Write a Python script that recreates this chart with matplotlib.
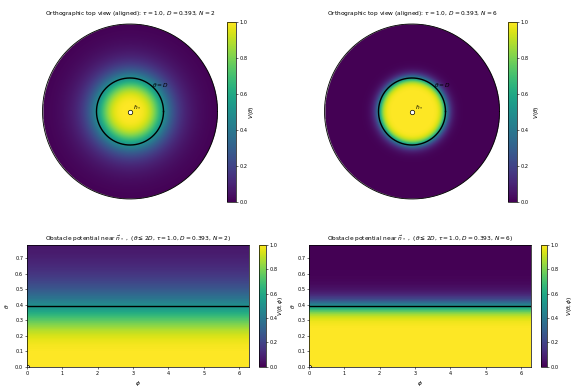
import numpy as np
import matplotlib
matplotlib.use("Agg")
import matplotlib.pyplot as plt

# model parameters shown in the titles
tau = 1.0
D = 0.393
N_values = [2, 6]

W, H = 575, 392
FS = 4.2
plt.rcParams["font.size"] = FS
plt.rcParams["xtick.labelsize"] = 3.6
plt.rcParams["ytick.labelsize"] = 3.6
plt.rcParams["xtick.major.size"] = 1.5
plt.rcParams["ytick.major.size"] = 1.5
plt.rcParams["xtick.major.width"] = 0.4
plt.rcParams["ytick.major.width"] = 0.4
plt.rcParams["axes.linewidth"] = 0.5
plt.rcParams["xtick.major.pad"] = 1.5
plt.rcParams["ytick.major.pad"] = 1.2


def potential(theta, N):
    """Smooth obstacle profile, V = 1/2 at theta = D."""
    return tau / (1.0 + (theta / D) ** (2 * N))


def px_axes(fig, x, top, w, h):
    # position given in pixels measured from the top-left corner
    return fig.add_axes([x / W, (H - top - h) / H, w / W, h / H])


fig = plt.figure(figsize=(W / 100, H / 100), dpi=100)

# -----------------------------------------------------------------------------
# Top row: orthographic view of the cap around n_*
# -----------------------------------------------------------------------------
disk_cx = [130, 412]
disk_cy = 111.5
disk_r = 87.5
lim = 1.02
cbar_x = [226.7, 508]
cbar_lab_x = [247, 532]

g = np.linspace(-1, 1, 500)
X, Y = np.meshgrid(g, g)
R = np.sqrt(X ** 2 + Y ** 2)

for i, N in enumerate(N_values):
    half = disk_r * lim
    ax = px_axes(fig, disk_cx[i] - half, disk_cy - half, 2 * half, 2 * half)
    th = np.arcsin(np.clip(R, 0, 1))
    V = np.ma.masked_where(R > 1, potential(th, N))
    im = ax.imshow(V, extent=[-1, 1, -1, 1], origin="lower", cmap="viridis",
                   vmin=0, vmax=1, interpolation="bilinear")
    t = np.linspace(0, 2 * np.pi, 400)
    ax.plot(np.cos(t), np.sin(t), color="black", lw=0.6)
    ax.plot(np.sin(D) * np.cos(t), np.sin(D) * np.sin(t), color="black", lw=1.0)
    ax.plot([0], [0], "o", ms=3.2, mfc="white", mec="black", mew=0.5)
    ax.text(0.03, 0.03, r"$\hat{n}_*$", fontsize=FS)
    ax.text(0.35, 0.30, r"$\theta=D$", fontsize=FS, ha="center", va="center")
    ax.set_xlim(-lim, lim)
    ax.set_ylim(-lim, lim)
    ax.set_aspect("equal")
    ax.axis("off")
    ax.set_title(rf"Orthographic top view (aligned): $\tau={tau:.1f}$, $D={D:.3f}$, $N={N}$",
                 fontsize=FS, pad=5)
    cw = 9
    cax = px_axes(fig, cbar_x[i], 21.7, cw, 180.6)
    cb = fig.colorbar(im, cax=cax)
    cb.set_ticks([0, 0.2, 0.4, 0.6, 0.8, 1.0])
    cb.set_label(r"$V(\theta)$", fontsize=FS)
    cax.yaxis.set_label_coords((cbar_lab_x[i] - cbar_x[i]) / cw, 0.5)
    cb.outline.set_linewidth(0.5)

# -----------------------------------------------------------------------------
# Bottom row: V(theta, phi) on the strip theta <= 2D
# -----------------------------------------------------------------------------
ax_x = [27, 309]
ylab_x = [11, 297]
cb2_x = [259.3, 540.7]
cb2_lab_x = [276, 565]
ax_w = 222
phi = np.linspace(0, 2 * np.pi, 200)
theta = np.linspace(0, 2 * D, 300)
PHI, TH = np.meshgrid(phi, theta)

for i, N in enumerate(N_values):
    ax = px_axes(fig, ax_x[i], 245, ax_w, 121.7)
    mesh = ax.pcolormesh(PHI, TH, potential(TH, N), cmap="viridis",
                         vmin=0, vmax=1, shading="auto")
    ax.axhline(D, color="black", lw=1.0)
    ax.plot([0], [0], "o", ms=3.2, mfc="white", mec="black", mew=0.5, clip_on=True)
    ax.set_xlim(0, 2 * np.pi)
    ax.set_ylim(0, 2 * D)
    ax.set_xticks([0, 1, 2, 3, 4, 5, 6])
    ax.set_yticks([0.0, 0.1, 0.2, 0.3, 0.4, 0.5, 0.6, 0.7])
    ax.set_xlabel(r"$\phi$", fontsize=FS, labelpad=2)
    ax.set_ylabel(r"$\theta$", fontsize=FS)
    ax.yaxis.set_label_coords((ylab_x[i] - ax_x[i]) / ax_w, 0.5)
    ax.set_title(rf"Obstacle potential near $\vec{{n}}_*$ ,  ($\theta \leq 2D$, $\tau={tau:.1f}$, $D={D:.3f}$, $N={N}$)",
                 fontsize=FS, pad=3)
    cw = 6.4
    cax = px_axes(fig, cb2_x[i], 245, cw, 121.7)
    cb = fig.colorbar(mesh, cax=cax)
    cb.set_ticks([0, 0.2, 0.4, 0.6, 0.8, 1.0])
    cb.set_label(r"$V(\theta,\phi)$", fontsize=FS)
    cax.yaxis.set_label_coords((cb2_lab_x[i] - cb2_x[i]) / cw, 0.5)
    cb.outline.set_linewidth(0.5)

fig.savefig("out.png", dpi=100)
